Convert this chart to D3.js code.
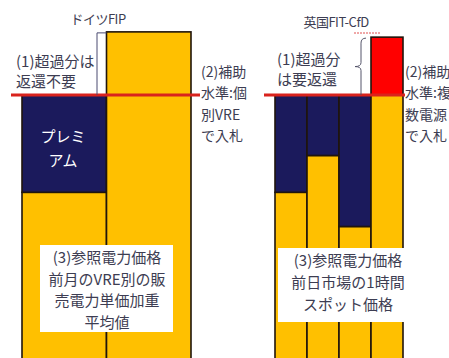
<!DOCTYPE html>
<html>
<head>
<meta charset="utf-8">
<script src="https://cdn.jsdelivr.net/npm/d3@7/dist/d3.min.js"></script>
<style>
  html, body { margin: 0; padding: 0; background: #ffffff; }
  svg { display: block; }
  text { font-family: "Noto Sans CJK JP", "Noto Sans", sans-serif; }
</style>
</head>
<body>
<svg id="chart" width="449" height="358"></svg>
<script>
// Price levels (arbitrary units, strike / support level = 100)
const strikeLevel = 100;

// Germany FIP: reference price per bar
const deCategories = ["de1", "de2"];
const deReference = [63, 124];

// UK FIT-CfD: hourly spot reference price per bar
const ukCategories = ["uk1", "uk2", "uk3", "uk4"];
const ukReference = [63, 77, 50, 122];

// Titles and annotation texts
const titles = ["ドイツFIP", "英国FIT-CfD"];
const deNote1 = ["(1)超過分は", "返還不要"];
const deNote2 = ["(2)補助", "水準:個", "別VRE", "で入札"];
const deNote3 = ["(3)参照電力価格", "前月のVRE別の販", "売電力単価加重", "平均値"];
const premiumLabel = ["プレミ", "アム"];
const ukNote1 = ["(1)超過分", "は要返還"];
const ukNote2 = ["(2)補助", "水準:複", "数電源", "で入札"];
const ukNote3 = ["(3)参照電力価格", "前日市場の1時間", "スポット価格"];

const NAVY = "#1b1a5c", YELLOW = "#ffc000", RED = "#ff0000", LINE_RED = "#d9231d";
const STROKE = "#20150c", TEXT = "#3d3d52";

const svg = d3.select("#chart");

const y = d3.scaleLinear().domain([0, strikeLevel]).range([358, 95]);

const xDe = d3.scaleBand().domain(deCategories).range([22, 191]).paddingInner(0);
const xUk = d3.scaleBand().domain(ukCategories).range([275, 403]).paddingInner(0);

// Split each bar into segments: market price, premium up to the strike (FIP/CfD),
// and the part above the strike that is paid back (CfD only)
function segments(cats, refs, payback) {
  const out = [];
  cats.forEach((c, i) => {
    const r = refs[i];
    if (r < strikeLevel) {
      out.push({ c, y0: 0, y1: r, fill: YELLOW });
      out.push({ c, y0: r, y1: strikeLevel, fill: NAVY });
    } else if (payback) {
      out.push({ c, y0: 0, y1: strikeLevel, fill: YELLOW });
      out.push({ c, y0: strikeLevel, y1: r, fill: RED });
    } else {
      out.push({ c, y0: 0, y1: r, fill: YELLOW });
    }
  });
  return out;
}

function drawBars(segs, x) {
  svg.append("g").selectAll("rect").data(segs).join("rect")
    .attr("x", d => x(d.c))
    .attr("width", x.bandwidth())
    .attr("y", d => y(d.y1))
    .attr("height", d => y(d.y0) - y(d.y1) + (d.y0 === 0 ? 4 : 0))
    .attr("fill", d => d.fill)
    .attr("stroke", STROKE)
    .attr("stroke-width", 1.6);
}

function textLines(lines, xPos, yStart, dy, opts) {
  const t = svg.append("text")
    .attr("font-size", opts.size)
    .attr("fill", opts.fill || TEXT)
    .attr("text-anchor", opts.anchor || "start");
  lines.forEach((s, i) => {
    t.append("tspan").attr("x", xPos).attr("y", yStart + i * dy)
      .attr("dominant-baseline", "middle").text(s);
  });
  return t;
}

drawBars(segments(deCategories, deReference, false), xDe);
drawBars(segments(ukCategories, ukReference, true), xUk);

// Strike level lines
svg.append("line").attr("x1", 11).attr("x2", 200).attr("y1", y(strikeLevel)).attr("y2", y(strikeLevel))
  .attr("stroke", LINE_RED).attr("stroke-width", 3);
svg.append("line").attr("x1", 264).attr("x2", 405).attr("y1", y(strikeLevel)).attr("y2", y(strikeLevel))
  .attr("stroke", LINE_RED).attr("stroke-width", 3);

// Titles
svg.append("text").attr("x", 98).attr("y", 20).attr("text-anchor", "middle")
  .attr("dominant-baseline", "middle").attr("font-size", 13).attr("fill", TEXT)
  .attr("letter-spacing", -0.5).text(titles[0]);
svg.append("text").attr("x", 336).attr("y", 23).attr("text-anchor", "middle")
  .attr("dominant-baseline", "middle").attr("font-size", 13).attr("fill", TEXT)
  .attr("letter-spacing", -0.5).text(titles[1]);
svg.append("line").attr("x1", 354).attr("x2", 380).attr("y1", 33).attr("y2", 33)
  .attr("stroke", "#e05050").attr("stroke-width", 1).attr("stroke-dasharray", "2,1");

// Germany (1) note with bracket
svg.append("path")
  .attr("d", `M${xDe("de2")},${y(deReference[1]) + 1} H97 V${y(strikeLevel)}`)
  .attr("fill", "none").attr("stroke", "#4a4a70").attr("stroke-width", 1);
textLines(deNote1, 16, 63, 20, { size: 15 });

// Premium label
textLines(premiumLabel, 63, 138, 24, { size: 15, fill: "#ffffff", anchor: "middle" });

// Germany (2) note
textLines(deNote2, 201, 73, 21.5, { size: 14 });

// Germany (3) box
svg.append("rect").attr("x", 40).attr("y", 245).attr("width", 133).attr("height", 87).attr("fill", "#ffffff");
textLines(deNote3, 107, 259, 21.5, { size: 15, anchor: "middle" });

// UK (1) note with brace
svg.append("rect").attr("x", 273).attr("y", 40).attr("width", 97).attr("height", 53).attr("fill", "#ffffff");
const braceTop = y(ukReference[3]) + 1, braceBot = y(strikeLevel), braceMid = (braceTop + braceBot) / 2;
svg.append("path")
  .attr("d", `M366,${braceTop} Q361,${braceTop} 361,${braceTop + 5} V${braceMid - 4} Q361,${braceMid} 355,${braceMid} Q361,${braceMid} 361,${braceMid + 4} V${braceBot}`)
  .attr("fill", "none").attr("stroke", "#55556a").attr("stroke-width", 1);
textLines(ukNote1, 277, 61, 20, { size: 15 });

// UK (2) note
textLines(ukNote2, 405, 73, 21.5, { size: 14 });

// UK (3) box
svg.append("rect").attr("x", 278).attr("y", 248).attr("width", 134).attr("height", 74).attr("fill", "#ffffff");
textLines(ukNote3, 348, 262, 22, { size: 15, anchor: "middle" });
</script>
</body>
</html>
